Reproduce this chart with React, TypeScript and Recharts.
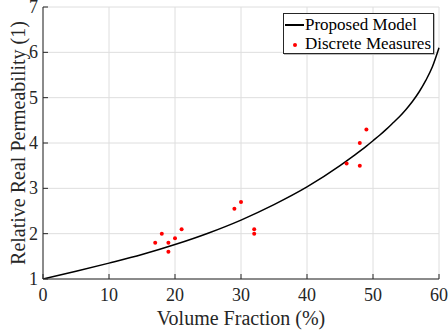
import { ComposedChart, Line, Scatter, XAxis, YAxis, CartesianGrid, Label } from 'recharts'

// model curve
const fractionPct = [0, 5, 10, 15, 20, 25, 30, 35, 40, 45, 47, 49, 50, 51, 52, 53, 54, 55, 56, 57, 58, 59, 60]
const modelPerm = [1.0, 1.17, 1.35, 1.54, 1.76, 2.01, 2.3, 2.64, 3.03, 3.5, 3.71, 3.93, 4.05, 4.17, 4.3, 4.44, 4.58, 4.74, 4.92, 5.13, 5.38, 5.68, 6.1]

// discrete measures
const measuredPct = [17, 18, 19, 19, 20, 21, 29, 30, 32, 32, 46, 48, 48, 49]
const measuredPerm = [1.8, 2.0, 1.8, 1.6, 1.9, 2.1, 2.55, 2.7, 2.1, 2.0, 3.55, 4.0, 3.5, 4.3]

const xTicks = [0, 10, 20, 30, 40, 50, 60]
const yTicks = [1, 2, 3, 4, 5, 6, 7]

const curve = fractionPct.map((x, i) => ({ x, y: modelPerm[i] }))
const measures = measuredPct.map((x, i) => ({ x, y: measuredPerm[i] }))

const FONT = '"Liberation Serif", "Times New Roman", serif'
const INK = '#262626'

const BottomTick = ({ x, y, payload }: any) => (
    <g>
        <line x1={x} x2={x} y1={y} y2={y - 5} stroke={INK} />
        <text x={x} y={y + 22} textAnchor="middle" fontSize={18} fontFamily={FONT} fill={INK}>{payload.value}</text>
    </g>
)
const TopTick = ({ x, y }: any) => <line x1={x} x2={x} y1={y} y2={y + 5} stroke={INK} />
const LeftTick = ({ x, y, payload }: any) => (
    <g>
        <line x1={x} x2={x + 5} y1={y} y2={y} stroke={INK} />
        <text x={x - 5} y={y + 6} textAnchor="end" fontSize={18} fontFamily={FONT} fill={INK}>{payload.value}</text>
    </g>
)
const RightTick = ({ x, y }: any) => <line x1={x} x2={x - 5} y1={y} y2={y} stroke={INK} />

const YLabel = ({ viewBox }: any) => {
    const cy = viewBox.y + viewBox.height / 2
    return (
        <text x={25} y={cy} transform={`rotate(-90, 25, ${cy})`} textAnchor="middle" fontSize={20} fontFamily={FONT} fill={INK}>
            Relative Real Permeability (1)
        </text>
    )
}

export default function App() {
    return (
        <div style={{ position: 'relative', width: 448, height: 335 }}>
            <style>{'body{margin:0}'}</style>
            <ComposedChart width={448} height={335} margin={{ top: 7, right: 9, bottom: 0, left: 0 }}>
                <CartesianGrid stroke="#dedede" />
                <XAxis dataKey="x" type="number" domain={[0, 60]} ticks={xTicks} height={56}
                    stroke={INK} tickLine={false} tickSize={0} tickMargin={0} tick={<BottomTick />} interval={0}>
                    <Label value="Volume Fraction (%)" position="insideBottom" offset={10} fontSize={20} fontFamily={FONT} fill={INK} />
                </XAxis>
                <XAxis xAxisId="top" orientation="top" dataKey="x" type="number" domain={[0, 60]} ticks={xTicks} height={0}
                    stroke={INK} tickLine={false} tickSize={0} tickMargin={0} tick={<TopTick />} interval={0} />
                <YAxis type="number" domain={[1, 7]} ticks={yTicks} width={43} allowDataOverflow
                    stroke={INK} tickLine={false} tickSize={0} tickMargin={0} tick={<LeftTick />} interval={0}>
                    <Label content={<YLabel />} />
                </YAxis>
                <YAxis yAxisId="right" orientation="right" type="number" domain={[1, 7]} ticks={yTicks} width={0}
                    stroke={INK} tickLine={false} tickSize={0} tickMargin={0} tick={<RightTick />} interval={0} />
                <Line data={curve} dataKey="y" type="monotone" stroke="#000" strokeWidth={1.5} dot={false} isAnimationActive={false} />
                <Scatter data={measures} dataKey="y" fill="#ff0000" isAnimationActive={false}
                    shape={(p: any) => <circle cx={p.cx} cy={p.cy} r={2} fill="#ff0000" />} />
            </ComposedChart>
            <div style={{
                position: 'absolute', left: 283, top: 13, width: 151, height: 41, border: `1px solid ${INK}`,
                boxShadow: '1px 1px 0 #bbb', background: '#fff', fontFamily: FONT, fontSize: 17, color: '#000',
                boxSizing: 'border-box', whiteSpace: 'nowrap',
            }}>
                <div style={{ position: 'absolute', left: 1, top: 10, width: 19, height: 2, background: '#000' }} />
                <div style={{ position: 'absolute', left: 21, top: 1, lineHeight: '20px' }}>Proposed Model</div>
                <div style={{ position: 'absolute', left: 9, top: 29, width: 4, height: 4, borderRadius: 2, background: '#ff0000' }} />
                <div style={{ position: 'absolute', left: 21, top: 20, lineHeight: '20px' }}>Discrete Measures</div>
            </div>
        </div>
    )
}
